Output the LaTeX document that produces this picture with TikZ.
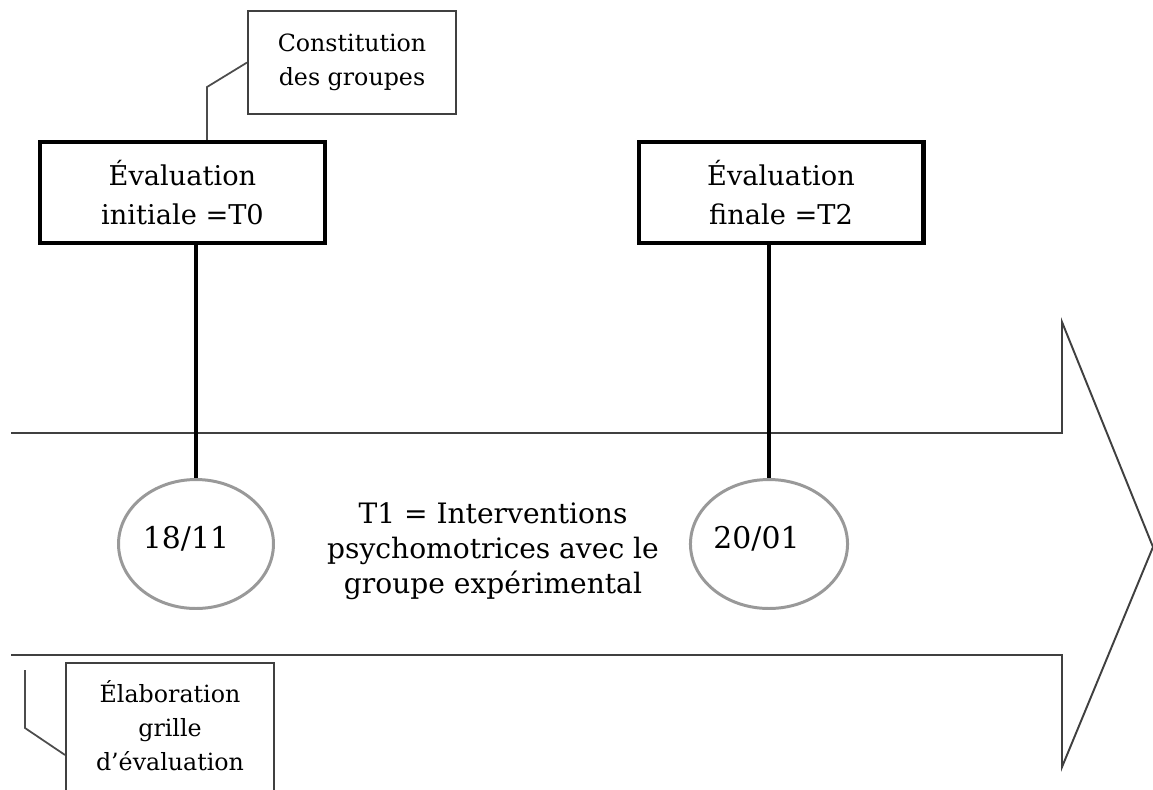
\documentclass[tikz,border=0pt]{standalone}
\usepackage{fontspec}
\setmainfont{DejaVu Serif}
\usepackage{tikz}
\usetikzlibrary{shapes}
\tikzstyle{evalbox}=[rectangle,draw=black,line width=2.3pt,minimum width=5.7cm,minimum height=2.02cm,align=center,font=\fontsize{15.5}{22}\selectfont]
\tikzstyle{datecircle}=[ellipse,draw=black!40,line width=1.7pt,minimum width=3.1cm,minimum height=2.58cm,inner sep=0pt,text depth=0.28cm,font=\fontsize{17}{20}\selectfont]
\tikzstyle{notebox}=[rectangle,draw=black!75,line width=1.1pt,minimum width=4.16cm,align=center,font=\fontsize{13.5}{19.5}\selectfont]
\tikzstyle{stemline}=[draw=black,line width=2.8pt]
\tikzstyle{leader}=[draw=black!70,line width=1pt]
\tikzstyle{timeline}=[draw=black!75,line width=1.1pt]

\begin{document}
\begin{tikzpicture}[x=0.02cm,y=-0.02cm]
	\useasboundingbox (0,0) rectangle (1153,789);
	\clip (0,0) rectangle (1153,789);
	
	% big arrow
	\draw[timeline] (11,433) -- (1062,433) -- (1062,322) -- (1153,547) -- (1062,767) -- (1062,655) -- (11,655);
	
	\node[evalbox] (t0) at (182.5,192.5) {Évaluation\\initiale =T0};
	\node[evalbox] (t2) at (781,192.5) {Évaluation\\finale =T2};
	\node[datecircle] (d0) at (196,544) {18/11\kern0.4cm};
	\node[datecircle] (d2) at (769,544) {20/01\kern0.5cm};
	\node[align=center,inner sep=0pt,font=\fontsize{16}{20}\selectfont] (t1) at (493,551) {T1 = Interventions\\psychomotrices avec le\\groupe expérimental};
	
	\node[notebox,minimum height=2.06cm] (grp) at (352,62.5) {Constitution\\des groupes};
	\node[notebox,anchor=north,inner ysep=0.35cm,text depth=1.6cm] (elab) at (170,662) {Élaboration\\grille\\d’évaluation};
	
	\draw[stemline] (t0.south -| d0.north) -- (d0.north);
	\draw[stemline] (t2.south -| d2.north) -- (d2.north);
	
	\coordinate (bend1) at (207,87);
	\draw[leader] (grp.west) -- (bend1) -- (bend1 |- t0.north);
	\coordinate (free1) at (25,670);
	\coordinate (bend2) at (25,728);
	\draw[leader] (free1) -- (bend2) -- (elab.north west |- 0,755);
\end{tikzpicture}
\end{document}
